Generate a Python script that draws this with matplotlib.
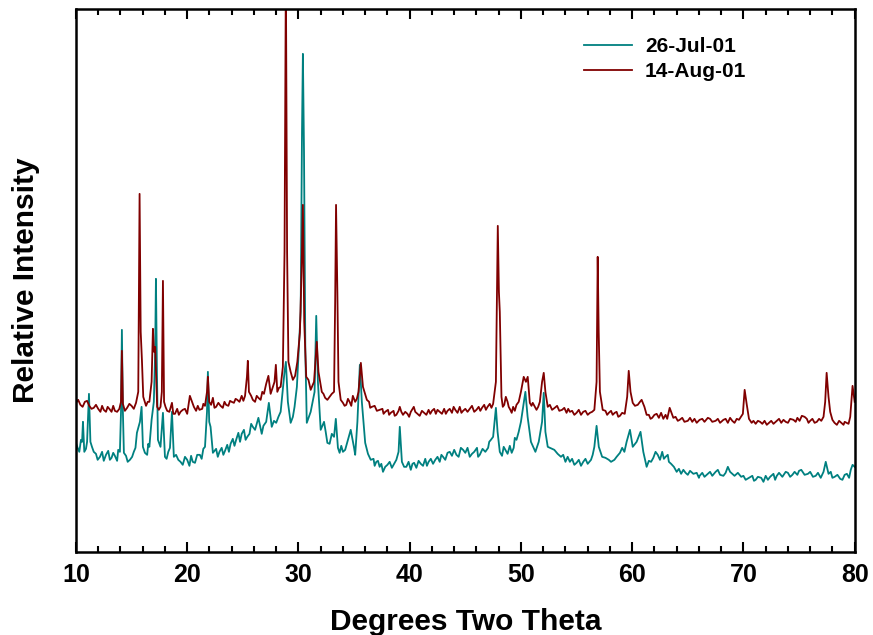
import matplotlib.pyplot as plt

plt.rcParams['font.family'] = ['Liberation Sans', 'DejaVu Sans']
plt.rcParams['font.weight'] = 'bold'

# 26-Jul-01 scan (two theta in degrees, intensity)
jul_theta = [10.00, 10.3, 10.55, 10.63, 10.75, 11.0, 11.17, 11.3, 11.44, 11.8,
             12.16, 12.7, 13.2, 13.5, 13.95, 14.05, 14.13, 14.22, 14.31, 14.85,
             15.2, 15.48, 15.75, 15.9, 16.02, 16.2, 16.6, 16.8, 17.0, 17.12,
             17.19, 17.28, 17.37, 17.6, 17.82, 18.0, 18.3, 18.63, 18.8, 19.2,
             19.6, 20.0, 20.5, 21.14, 21.6, 21.78, 21.86, 21.98, 22.1, 22.31,
             22.9, 23.4, 23.9, 24.4, 24.9, 25.4, 25.9, 26.4, 26.7, 27.1,
             27.34, 27.6, 28.0, 28.4, 28.75, 28.87, 29.05, 29.3, 29.86, 30.2,
             30.32, 30.40, 30.50, 30.62, 30.75, 31.1, 31.45, 31.60, 31.75, 32.0,
             32.3, 32.6, 33.2, 33.36, 33.55, 34.0, 34.4, 34.7, 34.9, 35.1,
             35.3, 35.52, 35.7, 36.0, 36.5, 37.0, 37.3, 37.6, 38.0, 38.6,
             39.0, 39.11, 39.3, 39.7, 40.4, 41.0, 41.7, 42.3, 43.0, 43.6,
             44.2, 44.8, 45.4, 45.8, 46.3, 46.8, 47.3, 47.75, 47.9, 48.1,
             48.6, 49.17, 49.6, 50.0, 50.4, 50.6, 50.9, 51.3, 51.6, 51.9,
             52.05, 52.2, 52.41, 53.0, 53.6, 54.4, 55.0, 55.6, 56.3, 56.6,
             56.80, 57.0, 57.3, 57.9, 58.4, 58.9, 59.5, 59.8, 60.05, 60.4,
             60.75, 61.0, 61.3, 61.7, 62.1, 62.5, 63.0, 63.5, 64.0, 64.8,
             65.5, 66.06, 66.8, 67.5, 68.2, 68.6, 69.0, 69.8, 70.5, 71.1,
             71.6, 72.4, 73.0, 73.8, 74.4, 75.2, 75.8, 76.5, 77.2, 77.4,
             77.65, 78.2, 78.7, 79.3, 79.81, 80.0]
jul_counts = [109, 100, 110, 130, 100, 110, 158, 110, 105, 98,
              95, 97, 94, 96, 100, 140, 222, 140, 99, 92,
              100, 119, 130, 145, 105, 99, 105, 132, 150, 200,
              273, 180, 112, 105, 139, 95, 100, 140, 95, 92,
              87, 92, 90, 97, 105, 140, 180, 130, 125, 99,
              100, 101, 108, 112, 118, 115, 125, 134, 118, 130,
              149, 125, 129, 140, 180, 190, 150, 129, 165, 240,
              420, 498, 400, 200, 129, 140, 160, 236, 170, 122,
              130, 109, 115, 133, 104, 100, 110, 122, 110, 97,
              130, 187, 150, 109, 92, 90, 85, 80, 87, 88,
              100, 125, 90, 85, 89, 88, 90, 92, 95, 100,
              97, 102, 95, 100, 97, 100, 112, 144, 120, 100,
              102, 99, 112, 130, 160, 135, 110, 100, 110, 130,
              159, 120, 105, 102, 95, 90, 89, 90, 92, 105,
              126, 105, 95, 92, 92, 99, 110, 122, 105, 110,
              120, 100, 85, 90, 100, 92, 95, 88, 80, 79,
              78, 76, 78, 80, 76, 85, 78, 75, 74, 72,
              74, 75, 76, 80, 77, 82, 78, 76, 80, 90,
              78, 75, 73, 78, 87, 85]

# extra readings of the noisy background, 26-Jul-01
jul_noise_theta = [10.15, 10.45, 10.9, 11.6, 11.95, 12.35, 12.5, 12.9, 13.05, 13.35,
                   13.7, 13.8, 14.5, 14.65, 15.05, 15.35, 16.4, 16.5, 18.15, 18.45,
                   19.0, 19.4, 19.8, 20.2, 20.35, 20.7, 20.9, 21.3, 21.45, 22.6,
                   22.75, 23.1, 23.25, 23.6, 23.75, 24.1, 24.25, 24.6, 24.75, 25.1,
                   25.25, 25.6, 25.75, 26.1, 26.25, 26.85, 27.8, 28.2, 29.5, 29.65,
                   32.45, 32.8, 33.0, 33.7, 33.85, 34.2, 35.0, 36.25, 36.75, 36.85,
                   37.15, 37.45, 37.8, 38.2, 38.4, 38.8, 39.5, 39.9, 40.1, 40.25,
                   40.6, 40.8, 41.2, 41.4, 41.55, 41.9, 42.1, 42.5, 42.7, 42.85,
                   43.2, 43.4, 43.8, 44.0, 44.4, 44.6, 45.0, 45.2, 45.6, 46.05,
                   46.15, 46.55, 47.05, 47.15, 47.5, 48.3, 48.45, 48.8, 49.0, 49.35,
                   49.45, 49.8, 53.3, 53.8, 54.0, 54.2, 54.6, 54.8, 55.2, 55.4,
                   55.8, 56.0, 56.45, 57.6, 58.1, 58.6, 59.1, 59.3, 61.5, 61.9,
                   62.3, 62.7, 62.85, 63.2, 63.3, 63.75, 64.2, 64.4, 64.6, 65.0,
                   65.2, 65.8, 66.0, 66.3, 66.5, 67.0, 67.2, 67.7, 67.9, 68.4,
                   68.8, 69.2, 69.5, 70.0, 70.2, 70.8, 70.95, 71.3, 71.8, 72.0,
                   72.2, 72.7, 72.85, 73.2, 73.5, 74.0, 74.2, 74.6, 74.85, 75.0,
                   75.5, 76.0, 76.25, 76.7, 76.95, 77.85, 78.0, 78.45, 78.9, 79.1,
                   79.5, 79.65]
jul_noise_counts = [104, 112, 103, 100, 92, 100, 91, 101, 92, 99,
                    91, 102, 96, 90, 95, 104, 97, 108, 93, 104,
                    97, 90, 95, 86, 96, 89, 97, 93, 103, 103,
                    95, 104, 97, 107, 100, 113, 106, 119, 110, 122,
                    112, 118, 128, 122, 128, 126, 131, 135, 135, 145,
                    120, 108, 118, 99, 106, 102, 104, 98, 93, 86,
                    91, 88, 85, 90, 84, 92, 85, 90, 82, 88,
                    84, 91, 86, 93, 86, 93, 88, 95, 90, 97,
                    92, 99, 96, 102, 95, 104, 99, 104, 98, 104,
                    95, 103, 104, 110, 115, 96, 105, 98, 106, 104,
                    114, 120, 98, 97, 90, 95, 93, 87, 92, 86,
                    93, 88, 97, 94, 90, 95, 104, 100, 91, 94,
                    97, 100, 93, 97, 90, 85, 83, 78, 82, 77,
                    81, 79, 74, 79, 75, 80, 76, 82, 77, 79,
                    80, 76, 79, 76, 72, 76, 71, 75, 70, 76,
                    72, 78, 72, 79, 75, 79, 75, 80, 77, 81,
                    77, 80, 75, 79, 74, 80, 74, 77, 72, 77,
                    74, 82]

# 14-Aug-01 scan
aug_theta = [10.00, 10.4, 10.8, 11.2, 11.6, 12.0, 12.5, 13.0, 13.5, 13.9,
             14.05, 14.13, 14.22, 14.6, 15.0, 15.4, 15.6, 15.72, 15.82, 15.93,
             16.05, 16.3, 16.6, 16.8, 16.92, 17.02, 17.12, 17.3, 17.6, 17.72,
             17.82, 17.92, 18.2, 18.63, 18.9, 19.4, 19.8, 20.24, 20.6, 21.1,
             21.6, 21.78, 21.86, 21.98, 22.31, 22.6, 23.0, 23.5, 24.0, 24.5,
             25.2, 25.37, 25.45, 25.55, 25.9, 26.4, 26.9, 27.1, 27.3, 27.5,
             27.85, 27.97, 28.1, 28.4, 28.6, 28.75, 28.87, 28.98, 29.1, 29.5,
             29.9, 30.13, 30.28, 30.40, 30.52, 30.7, 31.1, 31.4, 31.58, 31.65,
             31.8, 32.1, 32.4, 32.8, 33.2, 33.30, 33.38, 33.50, 33.6, 34.0,
             34.3, 34.6, 34.89, 35.1, 35.4, 35.61, 35.8, 36.15, 36.6, 37.3,
             37.8, 38.3, 38.8, 39.11, 39.4, 39.8, 40.37, 40.7, 41.3, 42.0,
             42.7, 43.4, 44.1, 44.8, 45.4, 46.0, 46.5, 47.0, 47.5, 47.75,
             47.92, 48.02, 48.10, 48.25, 48.37, 48.64, 48.9, 49.17, 49.6, 50.0,
             50.25, 50.45, 50.61, 50.8, 51.06, 51.4, 51.7, 51.9, 52.05, 52.2,
             52.41, 53.04, 53.7, 54.4, 55.0, 55.6, 56.2, 56.6, 56.8, 56.90,
             56.99, 57.1, 57.35, 57.9, 58.43, 58.9, 59.33, 59.55, 59.69, 59.85,
             60.05, 60.5, 60.85, 61.1, 61.3, 61.8, 62.2, 62.8, 63.37, 63.7,
             64.27, 65.0, 66.06, 66.8, 67.5, 68.2, 69.0, 69.6, 69.95, 70.11,
             70.29, 70.5, 70.74, 71.5, 72.3, 73.0, 73.8, 74.5, 75.05, 75.50,
             76.0, 76.6, 77.2, 77.35, 77.48, 77.65, 77.8, 78.19, 78.8, 79.27,
             79.6, 79.81, 80.0]
aug_counts = [149, 147, 150, 146, 144, 143, 142, 143, 141, 143,
              150, 201, 148, 144, 146, 149, 160, 358, 220, 192,
              155, 146, 150, 170, 223, 200, 205, 145, 145, 160,
              271, 150, 141, 149, 138, 140, 143, 156, 145, 142,
              146, 160, 175, 150, 154, 145, 146, 147, 150, 152,
              156, 175, 191, 160, 152, 154, 158, 168, 176, 158,
              170, 187, 160, 165, 185, 300, 580, 300, 190, 172,
              190, 219, 280, 347, 230, 175, 162, 170, 200, 210,
              180, 160, 154, 155, 160, 250, 347, 259, 170, 149,
              147, 150, 156, 150, 160, 189, 165, 152, 145, 142,
              140, 139, 137, 145, 137, 138, 145, 138, 139, 141,
              140, 141, 142, 141, 143, 142, 144, 145, 148, 170,
              326, 260, 240, 155, 145, 155, 145, 139, 147, 160,
              175, 170, 175, 149, 149, 142, 150, 170, 179, 160,
              145, 144, 142, 140, 139, 140, 139, 142, 170, 295,
              220, 160, 142, 139, 139, 136, 138, 155, 181, 160,
              149, 147, 152, 145, 137, 134, 138, 133, 144, 134,
              132, 131, 132, 134, 131, 132, 131, 132, 138, 162,
              148, 133, 129, 130, 129, 131, 130, 132, 131, 135,
              131, 130, 135, 150, 179, 155, 140, 129, 129, 129,
              135, 166, 150]

# extra readings of the noisy background, 14-Aug-01
aug_noise_theta = [10.2, 10.6, 11.0, 11.4, 11.8, 12.2, 12.35, 12.7, 12.85, 13.2,
                   13.35, 13.7, 14.4, 14.8, 15.2, 16.45, 17.45, 18.05, 18.4, 18.75,
                   19.1, 19.25, 19.6, 20.0, 20.8, 20.95, 21.35, 21.45, 22.15, 22.45,
                   22.8, 23.2, 23.35, 23.7, 23.85, 24.2, 24.35, 24.7, 24.9, 25.05,
                   25.75, 26.1, 26.25, 26.6, 26.75, 28.25, 29.3, 29.7, 30.9, 31.25,
                   32.25, 32.6, 33.0, 33.8, 34.15, 34.45, 34.75, 35.25, 36.35, 36.45,
                   36.85, 37.05, 37.55, 37.65, 38.05, 38.15, 38.55, 38.65, 39.0, 39.25,
                   39.6, 39.95, 40.1, 40.5, 40.9, 41.1, 41.5, 41.7, 41.85, 42.2,
                   42.35, 42.5, 42.9, 43.1, 43.25, 43.6, 43.8, 43.95, 44.3, 44.5,
                   44.65, 45.0, 45.2, 45.6, 45.8, 46.2, 46.35, 46.7, 46.85, 47.2,
                   47.35, 48.5, 48.8, 49.05, 49.3, 49.45, 49.8, 50.95, 51.25, 51.55,
                   52.6, 52.8, 53.25, 53.45, 53.9, 54.1, 54.25, 54.6, 54.8, 55.2,
                   55.4, 55.8, 56.0, 56.4, 57.6, 57.75, 58.1, 58.25, 58.6, 58.75,
                   59.1, 60.25, 60.7, 61.5, 61.65, 62.0, 62.4, 62.6, 63.0, 63.15,
                   63.9, 64.1, 64.5, 64.7, 65.2, 65.4, 65.6, 65.8, 66.3, 66.5,
                   67.0, 67.2, 67.7, 67.9, 68.4, 68.6, 68.8, 69.2, 69.4, 70.9,
                   71.1, 71.3, 71.7, 71.9, 72.1, 72.5, 72.7, 73.2, 73.4, 73.6,
                   74.0, 74.2, 74.7, 74.85, 75.25, 75.7, 75.85, 76.2, 76.4, 76.8,
                   77.0, 78.0, 78.4, 78.6, 79.0, 79.1, 79.45]
aug_noise_counts = [152, 145, 151, 143, 147, 140, 146, 140, 145, 140,
                    146, 140, 141, 148, 143, 150, 142, 145, 140, 138,
                    143, 137, 142, 138, 141, 146, 143, 148, 147, 144,
                    149, 144, 150, 146, 151, 149, 153, 150, 156, 151,
                    156, 150, 156, 152, 160, 164, 180, 176, 172, 166,
                    158, 152, 158, 152, 146, 153, 146, 153, 150, 144,
                    146, 141, 143, 138, 142, 137, 141, 136, 141, 140,
                    140, 135, 140, 140, 136, 141, 137, 142, 138, 143,
                    138, 142, 138, 143, 138, 143, 139, 145, 139, 145,
                    139, 143, 140, 146, 140, 145, 141, 147, 142, 148,
                    144, 147, 150, 142, 145, 141, 150, 146, 145, 145,
                    147, 142, 146, 141, 144, 139, 143, 141, 137, 142,
                    137, 141, 137, 140, 141, 137, 141, 137, 140, 135,
                    139, 146, 150, 137, 133, 137, 134, 139, 137, 133,
                    135, 131, 134, 130, 134, 130, 133, 129, 133, 130,
                    133, 130, 133, 129, 133, 129, 134, 129, 133, 131,
                    128, 131, 128, 131, 127, 131, 128, 133, 129, 132,
                    129, 133, 130, 134, 136, 133, 129, 133, 129, 133,
                    131, 132, 127, 131, 127, 130, 128]

labels = ['26-Jul-01', '14-Aug-01']

jul = sorted(zip(jul_theta + jul_noise_theta, jul_counts + jul_noise_counts))
aug = sorted(zip(aug_theta + aug_noise_theta, aug_counts + aug_noise_counts))

fig = plt.figure(figsize=(8.73, 6.35), dpi=100)
ax = fig.add_axes([0.087, 0.131, 0.892, 0.855])

ax.plot([p[0] for p in jul], [p[1] for p in jul], color='#008080', lw=1.3,
        label=labels[0])
ax.plot([p[0] for p in aug], [p[1] for p in aug], color='#800000', lw=1.3,
        label=labels[1])

ax.set_xlim(10, 80)
ax.set_ylim(0, 543)
ax.set_xticks(range(10, 81, 10))
ax.set_xticks(range(12, 80, 2), minor=True)
ax.set_yticks([])
ax.tick_params(axis='x', which='both', direction='in', top=True,
               labelsize=18, width=1.5, pad=8)
ax.tick_params(axis='x', which='major', length=7)
ax.tick_params(axis='x', which='minor', length=4)
for lab in ax.get_xticklabels():
    lab.set_fontweight('bold')
for s in ax.spines.values():
    s.set_linewidth(1.8)

ax.set_xlabel('Degrees Two Theta', fontsize=21.5, fontweight='bold', labelpad=15)
ax.set_ylabel('Relative Intensity', fontsize=21.5, fontweight='bold', labelpad=26)

ax.legend(loc='upper left', bbox_to_anchor=(0.653, 0.948), frameon=False,
          prop={'size': 15, 'weight': 'bold'}, handlelength=2.3,
          handletextpad=0.6, labelspacing=0.3, borderpad=0, borderaxespad=0)

plt.savefig('out.png')
